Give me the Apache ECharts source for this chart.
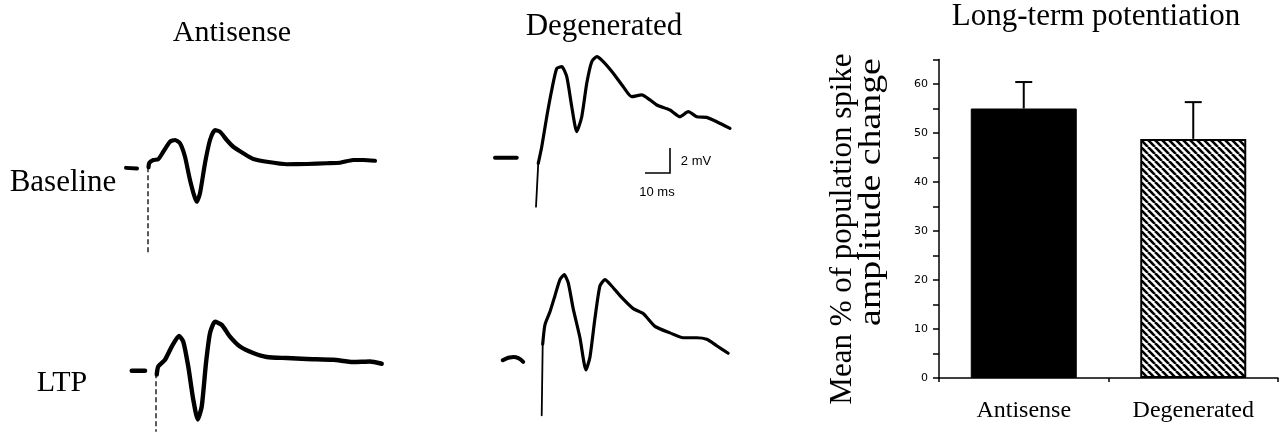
<!DOCTYPE html>
<html>
<head>
<meta charset="utf-8">
<script src="https://cdn.jsdelivr.net/npm/echarts@6/dist/echarts.min.js"></script>
<style>
html,body{margin:0;padding:0;background:#fff;}
#chart{width:1280px;height:433px;}
</style>
</head>
<body>
<div id="chart"></div>
<script>
// ---------- DATA ----------
// Field-potential traces: [time (ms from stimulus), voltage (mV relative to pre-stimulus level)]
const antisenseBaselinePre = [[-8.8, 0.05], [-4.4, 0]];
const antisenseBaselineArtifact = [[0, 0.1], [0, -6.8]];
const antisenseBaseline = [[0.2, 0.1], [0.5, 0.44], [2.1, 0.68], [4.1, 0.74], [6.1, 1.34], [8.8, 2.14], [10.8, 2.28], [12.8, 2.02], [14.8, 0.94], [16.8, -0.92], [19.5, -2.66], [20.8, -1.98], [22.8, 0.42], [24.8, 2.28], [26.8, 3.08], [28.8, 2.94], [31.5, 2.28], [34.1, 1.74], [38.1, 1.22], [42.1, 0.76], [47.5, 0.54], [55.5, 0.34], [63.5, 0.36], [71.5, 0.42], [76.8, 0.46], [82.1, 0.68], [86.1, 0.68], [90.8, 0.62]];

const antisenseLtpPre = [[-9.7, 0], [-4.4, 0]];
const antisenseLtpArtifact = [[0, -0.2], [0, -4.9]];
const antisenseLtp = [[0.3, -0.3], [0.9, 0.34], [3.6, 0.88], [6.3, 1.94], [9.2, 2.8], [10.9, 2.34], [12.9, 0.34], [14.9, -2.32], [16.7, -3.92], [18.3, -2.86], [20.0, 0.62], [21.6, 3.02], [23.6, 3.94], [26.3, 3.68], [29.6, 2.74], [33.6, 1.94], [38.9, 1.42], [44.3, 1.1], [52.3, 1.02], [60.3, 0.94], [70.9, 0.88], [78.9, 0.7], [85.6, 0.74], [90.3, 0.56]];

const degeneratedBaselinePre = [[-16.4, 0], [-7.7, 0]];
const degeneratedBaselineArtifact = [[0, -3.92], [0.9, -0.45]];
const degeneratedBaseline = [[0.9, -0.45], [2.3, 0.88], [4.3, 3.28], [6.3, 5.42], [8.3, 7.15], [10.3, 7.28], [12.3, 6.48], [14.3, 4.08], [16.3, 2.08], [18.3, 3.28], [20.3, 5.95], [22.3, 7.68], [24.3, 8.08], [26.9, 7.68], [30.9, 6.75], [34.9, 5.68], [38.3, 4.88], [42.3, 5.02], [45.6, 4.62], [48.3, 4.22], [53.6, 3.82], [57.6, 3.28], [60.9, 3.68], [64.3, 3.28], [68.3, 3.23], [72.3, 2.88], [77.6, 2.35]];

const degeneratedLtpPre = [[-15.6, 0], [-11.3, 0.26], [-7.4, -0.13]];
const degeneratedLtpArtifact = [[0, -4.54], [0.4, 1.33]];
const degeneratedLtp = [[0.4, 1.33], [1.3, 2.93], [3.3, 4.0], [5.3, 5.33], [7.3, 6.66], [9.0, 7.06], [10.6, 6.4], [12.6, 4.26], [15.3, 1.86], [17.7, -0.8], [19.3, 0.26], [21.3, 3.46], [23.3, 6.13], [25.3, 6.66], [28.0, 6.13], [31.3, 5.33], [36.6, 4.26], [40.6, 3.86], [45.3, 2.8], [51.3, 2.26], [56.6, 1.86], [62.0, 1.86], [66.0, 1.73], [70.0, 1.2], [74.6, 0.58]];

// Scale bar sizes
const scaleBarMs = 10;
const scaleBarMv = 2;

// Bar chart: mean % change of population spike amplitude (LTP)
const groups = ['Antisense', 'Degenerated'];
const meanChange = [55, 48.8];
const semChange = [5.4, 7.5];
const yTicks = [0, 10, 20, 30, 40, 50, 60];

// ---------- STYLE HELPERS ----------
const SERIF = "'Liberation Serif', 'Times New Roman', serif";

function hatchPattern() {
  const s = 7;
  const c = document.createElement('canvas');
  c.width = s; c.height = s;
  const g = c.getContext('2d');
  g.fillStyle = '#fff';
  g.fillRect(0, 0, s, s);
  g.strokeStyle = '#000';
  g.lineWidth = 2.6;
  for (let k = -1; k <= 1; k++) {
    g.beginPath();
    g.moveTo(k * s, 0);
    g.lineTo(k * s + s, s);
    g.stroke();
  }
  return { image: c, repeat: 'repeat' };
}

// 4 trace panels: same scale (2.5 px per ms, 12.5 px per mV)
const panels = [
  { left: 98,    top: 93.5,  xMin: -20, xMax: 100, yMin: -8, yMax: 6 },
  { left: 106,   top: 296,   xMin: -20, xMax: 100, yMin: -5, yMax: 6 },
  { left: 486,   top: 32.7,  xMin: -20, xMax: 100, yMin: -6, yMax: 10 },
  { left: 491.7, top: 263.3, xMin: -20, xMax: 100, yMin: -6, yMax: 8 }
];
const PX_PER_MS = 2.5, PX_PER_MV = 12.5;

const grids = [], xAxes = [], yAxes = [];
panels.forEach(p => {
  grids.push({ left: p.left, top: p.top, width: (p.xMax - p.xMin) * PX_PER_MS, height: (p.yMax - p.yMin) * PX_PER_MV, containLabel: false });
  xAxes.push({ type: 'value', gridIndex: grids.length - 1, min: p.xMin, max: p.xMax, show: false });
  yAxes.push({ type: 'value', gridIndex: grids.length - 1, min: p.yMin, max: p.yMax, show: false });
});
// bar chart grid
grids.push({ left: 939, top: 59.5, width: 339, height: 318.5, containLabel: false });
xAxes.push({
  type: 'category', gridIndex: 4, data: groups, boundaryGap: true,
  axisLine: { lineStyle: { color: '#000', width: 1.5 } },
  axisTick: { show: true, alignWithLabel: false, length: 4, lineStyle: { color: '#000', width: 1.5 } },
  axisLabel: { color: '#000', fontFamily: SERIF, fontSize: 24, margin: 21 }
});
yAxes.push({
  type: 'value', gridIndex: 4, min: 0, max: 65, interval: 5,
  axisLine: { show: true, lineStyle: { color: '#000', width: 1.5 } },
  axisTick: { show: true, length: 6, lineStyle: { color: '#000', width: 1.5 } },
  axisLabel: {
    color: '#000', fontFamily: "'DejaVu Sans', sans-serif", fontSize: 11, margin: 11,
    formatter: v => (yTicks.indexOf(v) >= 0 ? String(v) : '')
  },
  splitLine: { show: false }
});

function traceSeries(data, gi, width, extra) {
  return Object.assign({
    type: 'line', xAxisIndex: gi, yAxisIndex: gi, data: data,
    symbol: 'none', smooth: 0.2, silent: true, animation: false,
    lineStyle: { color: '#000', width: width, cap: 'round', join: 'round' }
  }, extra || {});
}

// scale bar anchored in the Degenerated-baseline panel
const sbT = 43.6, sbV = -1.22;
const scaleBar = [[sbT, sbV], [sbT + scaleBarMs, sbV], [sbT + scaleBarMs, sbV + scaleBarMv]];

const series = [
  traceSeries(antisenseBaselinePre, 0, 4, { smooth: false }),
  traceSeries(antisenseBaselineArtifact, 0, 1.3, { smooth: false, lineStyle: { color: '#000', width: 1.3, type: [5, 3] } }),
  traceSeries(antisenseBaseline, 0, 4.2),

  traceSeries(antisenseLtpPre, 1, 4.5, { smooth: false }),
  traceSeries(antisenseLtpArtifact, 1, 1.3, { smooth: false, lineStyle: { color: '#000', width: 1.3, type: [5, 3] } }),
  traceSeries(antisenseLtp, 1, 4.4),

  traceSeries(degeneratedBaselinePre, 2, 4, { smooth: false }),
  traceSeries(degeneratedBaselineArtifact, 2, 1.8, { smooth: false }),
  traceSeries(degeneratedBaseline, 2, 3.2),

  traceSeries(degeneratedLtpPre, 3, 4, { smooth: 0.5 }),
  traceSeries(degeneratedLtpArtifact, 3, 1.8, { smooth: false }),
  traceSeries(degeneratedLtp, 3, 3.2),

  traceSeries(scaleBar, 2, 1.6, { smooth: false, lineStyle: { color: '#000', width: 1.6, cap: 'butt', join: 'miter' } }),

  {
    type: 'bar', xAxisIndex: 4, yAxisIndex: 4, barWidth: 106, animation: false, silent: true,
    data: meanChange.map((v, i) => ({
      value: v,
      itemStyle: i === 0
        ? { color: '#000', borderColor: '#000', borderWidth: 1 }
        : { color: hatchPattern(), borderColor: '#000', borderWidth: 2 }
    }))
  },
  {
    type: 'custom', xAxisIndex: 4, yAxisIndex: 4, animation: false, silent: true, z: 5,
    data: meanChange.map((v, i) => [i, v, v + semChange[i]]),
    renderItem: function (params, api) {
      const base = api.coord([api.value(0), api.value(1)]);
      const top = api.coord([api.value(0), api.value(2)]);
      const hw = 8.5;
      const st = { stroke: '#000', lineWidth: 2 };
      return {
        type: 'group',
        children: [
          { type: 'line', shape: { x1: top[0], y1: base[1], x2: top[0], y2: top[1] }, style: st },
          { type: 'line', shape: { x1: top[0] - hw, y1: top[1], x2: top[0] + hw, y2: top[1] }, style: st }
        ]
      };
    }
  }
];

function txt(text, x, y, size, opts) {
  return Object.assign({
    type: 'text', x: x, y: y, silent: true,
    style: Object.assign({ text: text, fontFamily: SERIF, fontSize: size, fill: '#000', align: 'center', verticalAlign: 'middle' }, (opts && opts.style) || {})
  }, (opts && opts.el) || {});
}

const graphics = [
  txt('Antisense', 232, 33, 30),
  txt('Degenerated', 604, 27, 31),
  txt('Long-term potentiation', 1096, 17, 31),
  txt('Baseline', 63, 183, 31),
  txt('LTP', 62, 383, 30),
  txt('2 mV', 696, 161, 13, { style: { fontFamily: "'Liberation Sans', Arial, sans-serif" } }),
  txt('10 ms', 657, 192, 13, { style: { fontFamily: "'Liberation Sans', Arial, sans-serif" } }),
  txt('Mean % of population spike', 843, 229, 31, { el: { rotation: Math.PI / 2 } }),
  txt('amplitude change', 872, 192, 31, { el: { rotation: Math.PI / 2, scaleX: 1.22 } })
];

const chart = echarts.init(document.getElementById('chart'), null, { renderer: 'canvas' });
chart.setOption({
  backgroundColor: '#fff',
  animation: false,
  textStyle: { fontFamily: SERIF },
  grid: grids,
  xAxis: xAxes,
  yAxis: yAxes,
  series: series,
  graphic: graphics
});
</script>
</body>
</html>
